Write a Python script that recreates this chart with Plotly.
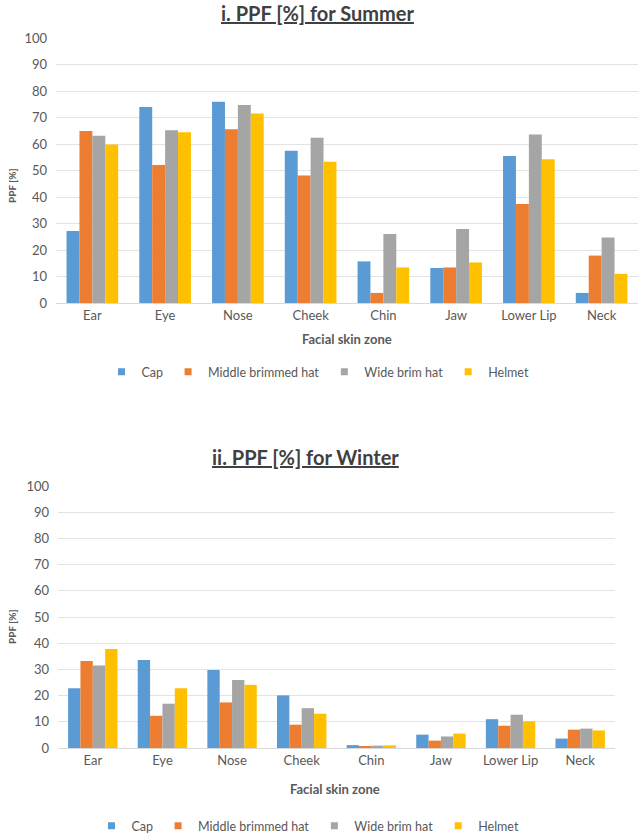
import plotly.graph_objects as go

zones = ["Ear", "Eye", "Nose", "Cheek", "Chin", "Jaw", "Lower Lip", "Neck"]
series_names = ["Cap", "Middle brimmed hat", "Wide brim hat", "Helmet"]
colors = ["#5B9BD5", "#ED7D31", "#A5A5A5", "#FFC000"]

summer_cap = [27.2, 74.0, 75.9, 57.5, 15.7, 13.2, 55.5, 3.8]
summer_mbh = [64.9, 52.1, 65.6, 48.1, 3.8, 13.4, 37.4, 17.9]
summer_wbh = [63.1, 65.2, 74.7, 62.4, 26.0, 27.9, 63.6, 24.7]
summer_helmet = [59.8, 64.4, 71.5, 53.3, 13.4, 15.3, 54.2, 11.0]

winter_cap = [22.8, 33.6, 29.8, 20.1, 1.1, 5.1, 11.0, 3.6]
winter_mbh = [33.2, 12.3, 17.4, 8.9, 0.6, 2.8, 8.5, 7.0]
winter_wbh = [31.5, 16.9, 26.0, 15.2, 0.9, 4.4, 12.7, 7.4]
winter_helmet = [37.8, 22.8, 24.1, 13.1, 1.0, 5.5, 10.2, 6.7]

y_ticks = [0, 10, 20, 30, 40, 50, 60, 70, 80, 90, 100]

W, H = 638, 835
FONT = "Lato, Open Sans, sans-serif"
TXT = "#595959"

summer = [summer_cap, summer_mbh, summer_wbh, summer_helmet]
winter = [winter_cap, winter_mbh, winter_wbh, winter_helmet]

fig = go.Figure()
for name, col, vals in zip(series_names, colors, summer):
    fig.add_trace(go.Bar(x=zones, y=vals, name=name, marker=dict(color=col, line=dict(width=0)),
                         xaxis="x", yaxis="y", showlegend=False))
for name, col, vals in zip(series_names, colors, winter):
    fig.add_trace(go.Bar(x=zones, y=vals, name=name, marker=dict(color=col, line=dict(width=0)),
                         xaxis="x2", yaxis="y2", showlegend=False))
# legend entries (square swatches like the original)
for lg, xa, ya in (("legend", "x", "y"), ("legend2", "x2", "y2")):
    for name, col in zip(series_names, colors):
        fig.add_trace(go.Scatter(x=[None], y=[None], mode="markers", name=name,
                                 marker=dict(symbol="square", size=7, color=col),
                                 xaxis=xa, yaxis=ya, legend=lg, showlegend=True))

def py(p):
    return 1 - p / H

tickfont = dict(family=FONT, size=13, color=TXT)

def xaxis(dom, anchor):
    return dict(domain=dom, anchor=anchor, showgrid=False, showline=True, automargin=False,
                linecolor="#D9D9D9", linewidth=1, ticks="", tickfont=tickfont)

def yaxis(dom, anchor):
    return dict(domain=dom, anchor=anchor, range=[0, 100], tickvals=y_ticks, automargin=False,
                showgrid=True, gridcolor="#E3E3E3", gridwidth=1, zeroline=False, showline=False,
                ticks="", ticklabelstandoff=8, tickfont=tickfont)

legend_common = dict(orientation="h", xanchor="center", yanchor="middle",
                     font=dict(family=FONT, size=12.5, color=TXT), itemwidth=30,
                     tracegroupgap=0, bgcolor="rgba(0,0,0,0)")

fig.update_layout(
    width=W, height=H,
    margin=dict(l=0, r=0, t=0, b=0, autoexpand=False),
    paper_bgcolor="white", plot_bgcolor="white",
    barmode="group", bargap=0.29, bargroupgap=0,
    font=dict(family=FONT, color=TXT),
    xaxis=xaxis([56 / W, 638 / W], "y"),
    yaxis=yaxis([py(303), py(38)], "x"),
    xaxis2=xaxis([58 / W, 615 / W], "y2"),
    yaxis2=yaxis([py(748), py(486)], "x2"),
    legend=dict(x=318 / W, y=py(372), **legend_common),
    legend2=dict(x=308 / W, y=py(826), **legend_common),
    showlegend=True,
)

annotations = [
    dict(text="<b><u>i. PPF [%] for Summer</u></b>", x=317 / W, y=py(13), xref="paper", yref="paper",
         showarrow=False, font=dict(family=FONT, size=20, color="#404040"), xanchor="center", yanchor="middle"),
    dict(text="<b><u>ii. PPF [%] for Winter</u></b>", x=305 / W, y=py(457), xref="paper", yref="paper",
         showarrow=False, font=dict(family=FONT, size=20, color="#404040"), xanchor="center", yanchor="middle"),
    dict(text="<b>Facial skin zone</b>", x=347 / W, y=py(339), xref="paper", yref="paper",
         showarrow=False, font=dict(family=FONT, size=13, color=TXT), xanchor="center", yanchor="middle"),
    dict(text="<b>Facial skin zone</b>", x=335 / W, y=py(789), xref="paper", yref="paper",
         showarrow=False, font=dict(family=FONT, size=13, color=TXT), xanchor="center", yanchor="middle"),
    dict(text="<b>PPF [%]</b>", x=12 / W, y=py(186), xref="paper", yref="paper", textangle=-90,
         showarrow=False, font=dict(family=FONT, size=10, color=TXT), xanchor="center", yanchor="middle"),
    dict(text="<b>PPF [%]</b>", x=12 / W, y=py(627), xref="paper", yref="paper", textangle=-90,
         showarrow=False, font=dict(family=FONT, size=10, color=TXT), xanchor="center", yanchor="middle"),
]
fig.update_layout(annotations=annotations)

fig.write_html("out.html", config={"displayModeBar": False},
               post_script="document.body.style.margin='0';document.body.style.overflow='hidden';")
